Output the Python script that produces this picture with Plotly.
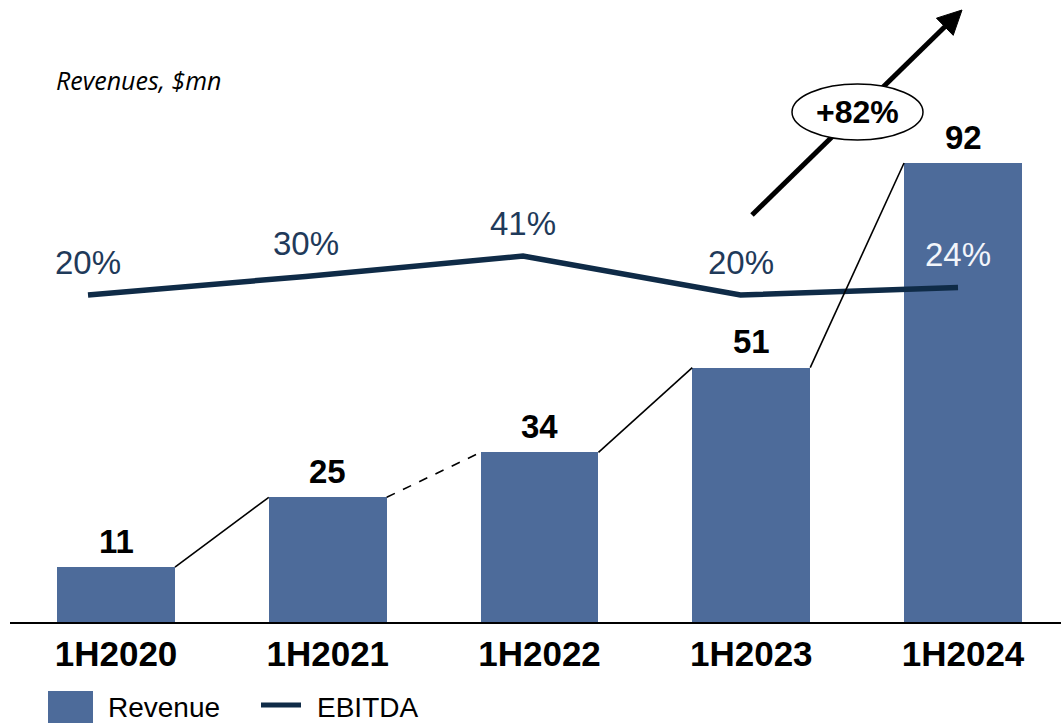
import plotly.graph_objects as go

categories = ["1H2020", "1H2021", "1H2022", "1H2023", "1H2024"]
revenue = [11, 25, 34, 51, 92]
ebitda_margin = [20, 30, 41, 20, 24]
ebitda_labels = ["20%", "30%", "41%", "20%", "24%"]
growth_label = "+82%"

BAR_COLOR = "#4d6b9a"
LINE_COLOR = "#0f2b47"
LABEL_COLOR = "#1f3a5a"
W, H = 1061, 723
ML, MR, MT, MB = 10, 0, 0, 101
PW, PH = W - ML - MR, H - MT - MB
bar_w = 0.557

xs = list(range(len(categories)))


def pp(px, py):
    return (px - ML) / PW, (MT + PH - py) / PH


fig = go.Figure()
fig.add_trace(go.Bar(x=xs, y=revenue, width=bar_w, marker=dict(color=BAR_COLOR, line=dict(width=0)),
                     name="Revenue", showlegend=False, hoverinfo="skip"))
fig.add_trace(go.Scatter(x=xs, y=ebitda_margin, xaxis="x2", yaxis="y2", mode="lines",
                         line=dict(color=LINE_COLOR, width=5.5), name="EBITDA", showlegend=False,
                         hoverinfo="skip"))

shapes = []
# connectors between bar tops
for i in range(len(revenue) - 1):
    shapes.append(dict(type="line", xref="x", yref="y", x0=i + bar_w / 2, y0=revenue[i],
                       x1=i + 1 - bar_w / 2, y1=revenue[i + 1],
                       line=dict(color="black", width=1.6, dash="dash" if i == 1 else "solid"),
                       layer="above"))

# growth arrow
tail = (752, 215)
tip = (962, 10)
dx, dy = tip[0] - tail[0], tip[1] - tail[1]
L = (dx ** 2 + dy ** 2) ** 0.5
ux, uy = dx / L, dy / L
nx, ny = -uy, ux
hl, hw = 24, 12
bc = (tip[0] - hl * ux, tip[1] - hl * uy)
c1 = (bc[0] + hw * nx, bc[1] + hw * ny)
c2 = (bc[0] - hw * nx, bc[1] - hw * ny)
a0, a1 = pp(*tail), pp(*bc)
shapes.append(dict(type="line", xref="paper", yref="paper", x0=a0[0], y0=a0[1], x1=a1[0], y1=a1[1],
                   line=dict(color="black", width=5), layer="above"))
pts = [pp(*tip), pp(*c1), pp(*c2)]
path = "M {} {} L {} {} L {} {} Z".format(pts[0][0], pts[0][1], pts[1][0], pts[1][1], pts[2][0], pts[2][1])
shapes.append(dict(type="path", xref="paper", yref="paper", path=path, fillcolor="black",
                   line=dict(color="black", width=1), layer="above"))
e0, e1 = pp(792, 84), pp(923, 140)
shapes.append(dict(type="circle", xref="paper", yref="paper", x0=e0[0], y0=e1[1], x1=e1[0], y1=e0[1],
                   fillcolor="white", opacity=1, line=dict(color="black", width=1.5), layer="above"))

# legend
r0, r1 = pp(48, 691), pp(93, 740)
shapes.append(dict(type="rect", xref="paper", yref="paper", x0=r0[0], y0=r1[1], x1=r1[0], y1=r0[1],
                   fillcolor=BAR_COLOR, line=dict(width=0)))
l0, l1 = pp(261, 705), pp(301, 705)
shapes.append(dict(type="line", xref="paper", yref="paper", x0=l0[0], y0=l0[1], x1=l1[0], y1=l1[1],
                   line=dict(color=LINE_COLOR, width=5)))

annotations = []
for i, v in enumerate(revenue):
    annotations.append(dict(x=i, y=v, xref="x", yref="y", text=str(v), showarrow=False,
                            xanchor="center", yanchor="middle", yshift=26,
                            font=dict(family="Liberation Sans", size=33, color="black", weight="bold")))
for i, (v, t) in enumerate(zip(ebitda_margin, ebitda_labels)):
    annotations.append(dict(x=i, y=v, xref="x2", yref="y2", text=t, showarrow=False,
                            xanchor="center", yanchor="middle", yshift=33,
                            font=dict(family="Liberation Sans", size=33,
                                      color="#f2f5fa" if i == len(ebitda_margin) - 1 else LABEL_COLOR)))
gx, gy = pp(857, 112)
annotations.append(dict(x=gx, y=gy, xref="paper", yref="paper", text=growth_label, showarrow=False,
                        xanchor="center", yanchor="middle",
                        font=dict(family="Liberation Sans", size=32, color="black", weight="bold")))
tx, ty = pp(54, 80)
annotations.append(dict(x=tx, y=ty, xref="paper", yref="paper", text="Revenues, $mn", showarrow=False,
                        xanchor="left", yanchor="middle",
                        font=dict(family="Open Sans", size=25, color="black", style="italic")))
lx, ly = pp(106, 707)
annotations.append(dict(x=lx, y=ly, xref="paper", yref="paper", text="Revenue", showarrow=False,
                        xanchor="left", yanchor="middle",
                        font=dict(family="Liberation Sans", size=28, color="black")))
lx2, _ = pp(315, 707)
annotations.append(dict(x=lx2, y=ly, xref="paper", yref="paper", text="EBITDA", showarrow=False,
                        xanchor="left", yanchor="middle",
                        font=dict(family="Liberation Sans", size=28, color="black")))

px_per_unit = 459 / 92.0
y_top = PH / px_per_unit
pct_px = 39 / 21.0
y2_lo = 20 - (622 - 295) / pct_px
y2_hi = 20 + 295 / pct_px
step = 211.75
step2 = 217.5

fig.update_layout(
    width=W, height=H, autosize=False,
    margin=dict(l=ML, r=MR, t=MT, b=MB),
    paper_bgcolor="white", plot_bgcolor="white",
    showlegend=False,
    bargap=0,
    xaxis=dict(range=[-(116 - ML) / step, (W - 116) / step], tickmode="array", tickvals=xs,
               ticktext=categories, showline=True, linecolor="black", linewidth=2, ticks="",
               showgrid=False, zeroline=False, fixedrange=True,
               tickfont=dict(family="Liberation Sans", size=35, color="black", weight="bold")),
    yaxis=dict(range=[0, y_top], visible=False, fixedrange=True),
    xaxis2=dict(range=[-(88 - ML) / step2, (W - 88) / step2], overlaying="x", visible=False,
                fixedrange=True),
    yaxis2=dict(range=[y2_lo, y2_hi], overlaying="y", visible=False, fixedrange=True),
    shapes=shapes,
    annotations=annotations,
)

fig.write_html("out.html")
